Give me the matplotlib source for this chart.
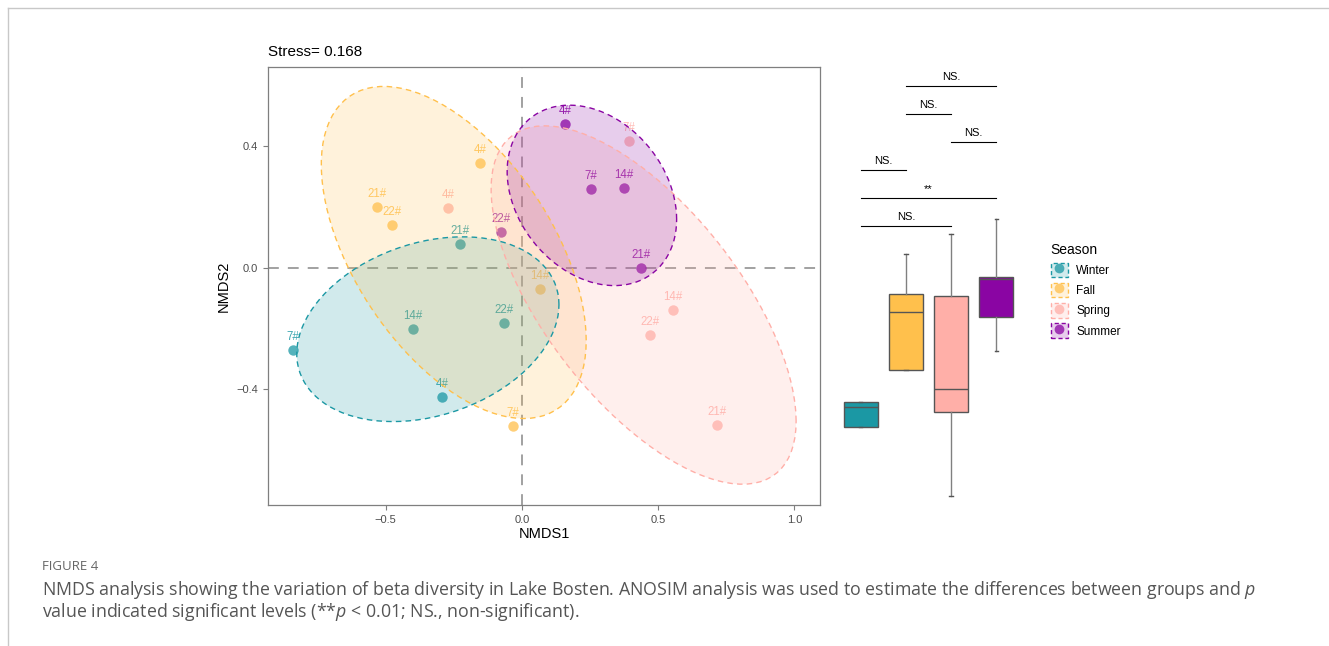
import numpy as np
import matplotlib
matplotlib.use("Agg")
import matplotlib.pyplot as plt
from matplotlib.patches import Patch, Polygon
from matplotlib.lines import Line2D
from matplotlib.legend_handler import HandlerTuple

plt.rcParams['font.family'] = ['Liberation Sans', 'DejaVu Sans']
plt.rcParams['mathtext.fontset'] = 'custom'
plt.rcParams['mathtext.rm'] = 'Open Sans'
plt.rcParams['mathtext.it'] = 'Open Sans:italic'

# NMDS scores per season (sites 4#, 7#, 14#, 21#, 22#)
seasons = ["Winter", "Fall", "Spring", "Summer"]
colors = ["#1B98A4", "#FFC04C", "#FFAFA8", "#8A05A3"]
sites = ["4#", "7#", "14#", "21#", "22#"]
nmds1 = {
    "Winter": [-0.294, -0.840, -0.400, -0.228, -0.066],
    "Fall":   [-0.154, -0.033, 0.066, -0.532, -0.477],
    "Spring": [-0.272, 0.393, 0.554, 0.716, 0.470],
    "Summer": [0.158, 0.253, 0.374, 0.437, -0.077],
}
nmds2 = {
    "Winter": [-0.424, -0.270, -0.200, 0.079, -0.181],
    "Fall":   [0.345, -0.520, -0.069, 0.201, 0.141],
    "Spring": [0.197, 0.418, -0.138, -0.516, -0.220],
    "Summer": [0.474, 0.260, 0.263, 0.000, 0.118],
}
stress = 0.168

# boxplot summaries (whisker low, q1, median, q3, whisker high)
box_lo  = [0.178, 0.308, 0.021, 0.352]
box_q1  = [0.178, 0.308, 0.212, 0.429]
box_med = [0.224, 0.441, 0.264, 0.517]
box_q3  = [0.236, 0.481, 0.478, 0.521]
box_hi  = [0.236, 0.573, 0.619, 0.654]

# ANOSIM pairwise comparisons (group a, group b, label, bracket height)
pairs_a = [2, 2, 3, 1, 1, 1]
pairs_b = [4, 3, 4, 2, 4, 3]
pairs_lab = ["NS.", "NS.", "NS.", "NS.", "**", "NS."]
pairs_y = [0.957, 0.893, 0.829, 0.765, 0.702, 0.638]


def cov_trob(x, nu=5, maxit=25, tol=0.01):
    # robust t covariance (as MASS::cov.trob)
    n, p = x.shape
    wt = np.ones(n)
    loc = x.mean(0)
    w = np.sqrt(wt)
    for _ in range(maxit):
        w0 = w
        X = x - loc
        _, d, vt = np.linalg.svd(np.sqrt(w / w.sum())[:, None] * X, full_matrices=False)
        wX = X @ vt.T @ np.diag(1 / d)
        Q = (wX ** 2).sum(1)
        w = wt * (nu + p) / (nu + Q)
        loc = (w[:, None] * x).sum(0) / w.sum()
        if np.all(np.abs(w - w0) < tol):
            break
    sw = np.sqrt(w)[:, None] * X
    return loc, sw.T @ sw / wt.sum()


def ellipse_pts(x, y, level=0.75, seg=100):
    xy = np.column_stack([x, y])
    center, shape = cov_trob(xy)
    d2 = len(x) - 1
    q = d2 / 2 * ((1 - level) ** (-2 / d2) - 1)
    radius = np.sqrt(2 * q)
    ang = np.linspace(0, 2 * np.pi, seg)
    circ = np.column_stack([np.cos(ang), np.sin(ang)])
    L = np.linalg.cholesky(shape)
    return center + radius * circ @ L.T


fig = plt.figure(figsize=(13.29, 6.46), dpi=100)
W, H = 1329, 646

ax = fig.add_axes([268 / W, 1 - 505 / H, (820 - 268) / W, (505 - 67) / H])
ax.set_xlim(-0.932, 1.094)
ax.set_ylim(-0.78, 0.661)

ax.axhline(0, color="#9a9a9a", lw=1.3, ls=(0, (6, 5)), zorder=1)
ax.axvline(0, color="#9a9a9a", lw=1.3, ls=(0, (6, 5)), zorder=1)

for s, c in zip(seasons, colors):
    xs, ys = nmds1[s], nmds2[s]
    ax.plot(xs, ys, "o", color=c, alpha=0.75, markersize=7.5, mec="none", zorder=2)
    for lab, xi, yi in zip(sites, xs, ys):
        ax.annotate(lab, (xi, yi), xytext=(0, 5), textcoords="offset points",
                    ha="center", va="bottom", fontsize=8.3, color=c, alpha=0.85, zorder=3)

for s, c in zip(seasons, colors):
    pts = ellipse_pts(nmds1[s], nmds2[s])
    ax.add_patch(Polygon(pts, closed=True, facecolor=c, alpha=0.2, edgecolor="none", zorder=4))
    ax.add_patch(Polygon(pts, closed=True, facecolor="none", edgecolor=c, lw=1.0,
                         ls=(0, (4, 3)), zorder=5))

ax.set_xticks([-0.5, 0.0, 0.5, 1.0])
ax.set_yticks([-0.4, 0.0, 0.4])
ax.tick_params(colors="#7f7f7f", labelcolor="#4d4d4d", labelsize=8, length=3.5, width=0.8)
for sp in ax.spines.values():
    sp.set_color("#7f7f7f")
    sp.set_linewidth(0.9)
ax.set_xlabel("NMDS1", fontsize=10.5, labelpad=2)
ax.set_ylabel("NMDS2", fontsize=10.5, labelpad=4)
ax.set_title(f"Stress= {stress}", loc="left", fontsize=11, pad=8)

# boxplot of the groups
bx = fig.add_axes([838 / W, 1 - 505 / H, 181 / W, (505 - 67) / H])
stats = []
for i in range(4):
    stats.append(dict(whislo=box_lo[i], q1=box_q1[i], med=box_med[i], q3=box_q3[i],
                      whishi=box_hi[i], fliers=[]))
b = bx.bxp(stats, positions=[1, 2, 3, 4], widths=0.75, patch_artist=True,
           showfliers=False,
           boxprops=dict(edgecolor="#555555", linewidth=1.0),
           medianprops=dict(color="#555555", linewidth=1.0),
           whiskerprops=dict(color="#808080", linewidth=1.0),
           capprops=dict(color="#555555", linewidth=1.0), capwidths=0.08)
for patch, c in zip(b["boxes"], colors):
    patch.set_facecolor(c)
bx.set_xlim(0.5, 4.5)
bx.set_ylim(0, 1)
for a, bb, lab, yy in zip(pairs_a, pairs_b, pairs_lab, pairs_y):
    bx.plot([a, bb], [yy, yy], color="black", lw=0.8)
    bx.text((a + bb) / 2, yy + 0.008, lab, ha="center", va="bottom", fontsize=8)
bx.axis("off")

handles = []
for c in colors:
    handles.append((Patch(facecolor=matplotlib.colors.to_rgba(c, 0.2), edgecolor=c,
                          linestyle=(0, (3, 2)), linewidth=1.0),
                    Line2D([], [], marker="o", color=c, alpha=0.75, ls="none",
                           markersize=7, mec="none")))
leg = fig.legend(handles, seasons, handler_map={tuple: HandlerTuple(ndivide=1, pad=0)},
                 loc="upper left", bbox_to_anchor=(1040 / W, 1 - 232 / H), frameon=False,
                 title="Season", fontsize=8.5, title_fontsize=10, handlelength=1.45,
                 handleheight=1.5, labelspacing=0.5, handletextpad=0.7,
                 alignment="left")

# page frame and caption
fig.add_artist(Line2D([8 / W, 1], [1 - 8 / H] * 2, color="#c8c8c8", lw=1.0))
fig.add_artist(Line2D([8 / W, 8 / W], [0, 1 - 8 / H], color="#c8c8c8", lw=1.0))
fig.text(42 / W, 1 - 567 / H, "FIGURE 4", fontsize=9.5, color="#666666",
         family="Open Sans", va="center")
fig.text(42 / W, 1 - 590 / H,
         "NMDS analysis showing the variation of beta diversity in Lake Bosten. ANOSIM analysis "
         "was used to estimate the differences between groups and $\\it{p}$",
         fontsize=12.8, color="#555555", family="Open Sans", va="center")
fig.text(42 / W, 1 - 612 / H,
         "value indicated significant levels (**$\\it{p}$ < 0.01; NS., non-significant).",
         fontsize=12.8, color="#555555", family="Open Sans", va="center")

fig.savefig("out.png", dpi=100)
